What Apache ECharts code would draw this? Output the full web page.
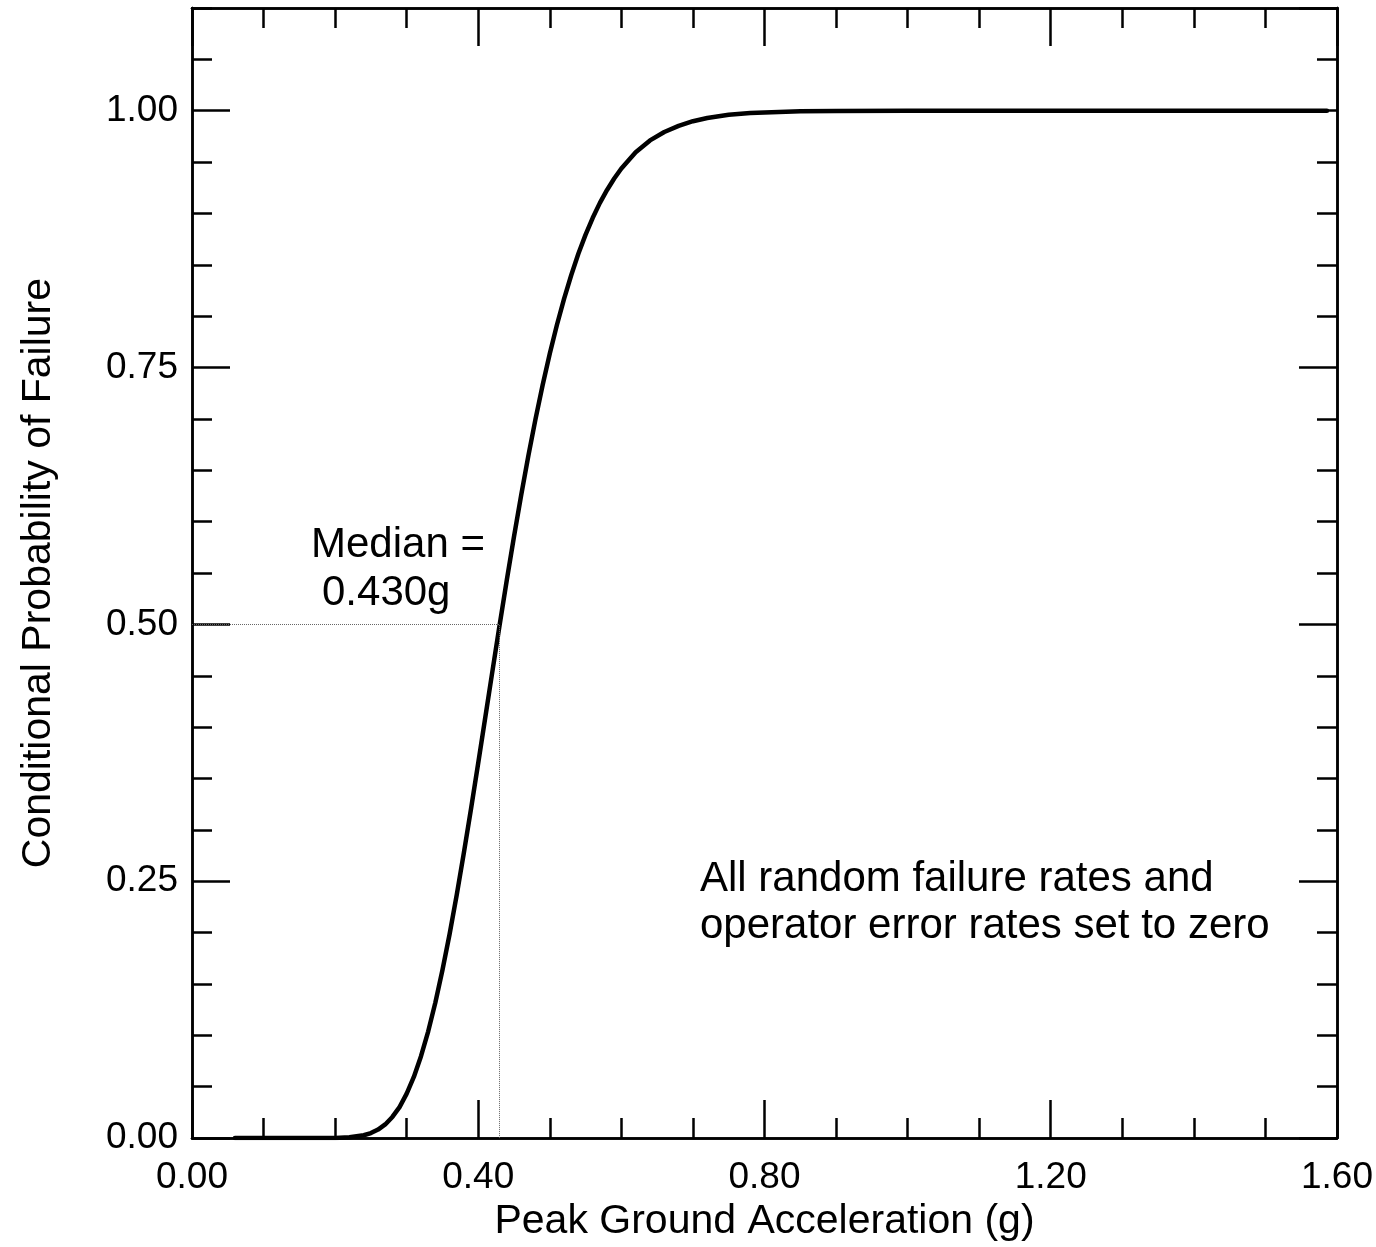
<!DOCTYPE html>
<html>
<head>
<meta charset="utf-8">
<script src="https://cdn.jsdelivr.net/npm/echarts@6/dist/echarts.min.js"></script>
<style>html,body{margin:0;padding:0;background:#fff;}#c{width:1376px;height:1247px;}</style>
</head>
<body>
<div id="c"></div>
<script>
// Data
var pga = [0.06, 0.10, 0.15, 0.20, 0.22, 0.24, 0.25, 0.26, 0.27, 0.28, 0.29, 0.30, 0.31, 0.32, 0.33, 0.34, 0.35, 0.36, 0.37, 0.38, 0.39, 0.40, 0.41, 0.42, 0.43, 0.44, 0.45, 0.46, 0.47, 0.48, 0.49, 0.50, 0.51, 0.52, 0.53, 0.54, 0.55, 0.56, 0.57, 0.58, 0.59, 0.60, 0.62, 0.64, 0.66, 0.68, 0.70, 0.72, 0.75, 0.78, 0.80, 0.85, 0.90, 1.00, 1.20, 1.40, 1.586];
var probability = [0.0, 0.0, 0.0, 0.0002, 0.0008, 0.0028, 0.0049, 0.0083, 0.0133, 0.0206, 0.0302, 0.0433, 0.0595, 0.0797, 0.1037, 0.1317, 0.1637, 0.1987, 0.2370, 0.2781, 0.3210, 0.3653, 0.4103, 0.4554, 0.5, 0.5436, 0.5857, 0.6259, 0.6640, 0.6998, 0.7330, 0.7637, 0.7917, 0.8172, 0.8401, 0.8610, 0.8794, 0.8958, 0.9103, 0.9229, 0.9340, 0.9438, 0.9596, 0.9711, 0.9793, 0.9853, 0.9898, 0.9929, 0.9960, 0.9977, 0.9984, 0.9994, 0.9998, 1.0, 1.0, 1.0, 1.0];
var medianPGA = 0.430;
var medianProb = 0.5;
var xTitle = 'Peak Ground Acceleration (g)';
var yTitle = 'Conditional Probability of Failure';
var medianText = ['Median =', '0.430g'];
var noteText = ['All random failure rates and', 'operator error rates set to zero'];

var FONT = '"Liberation Sans", Arial, sans-serif';
var curve = pga.map(function (x, i) { return [x, probability[i]]; });

function xAx(pos, interval, len, labels, extra) {
  var a = {
    type: 'value', position: pos, min: 0, max: 1.6, interval: interval,
    axisLine: { show: true, onZero: false, lineStyle: { color: '#000', width: 2.5 } },
    axisTick: { show: true, inside: true, length: len, lineStyle: { color: '#000', width: 2.5 } },
    axisLabel: { show: labels, fontFamily: FONT, fontSize: 37, color: '#000', margin: 21,
      formatter: function (v) { return v.toFixed(2); } },
    splitLine: { show: false }
  };
  return Object.assign(a, extra || {});
}
function yAx(pos, interval, len, labels, extra) {
  var a = {
    type: 'value', position: pos, min: 0, max: 1.1, interval: interval,
    axisLine: { show: true, onZero: false, lineStyle: { color: '#000', width: 2.5 } },
    axisTick: { show: true, inside: true, length: len, lineStyle: { color: '#000', width: 2.5 } },
    axisLabel: { show: labels, fontFamily: FONT, fontSize: 37, color: '#000', margin: 14, showMaxLabel: false,
      formatter: function (v) { return v.toFixed(2); } },
    splitLine: { show: false }
  };
  return Object.assign(a, extra || {});
}

var chart = echarts.init(document.getElementById('c'), null, { renderer: 'canvas' });
chart.setOption({
  backgroundColor: '#fff',
  animation: false,
  grid: { left: 192, right: 38, top: 8, bottom: 107 },
  xAxis: [
    xAx('bottom', 0.4, 38, true, { name: xTitle, nameLocation: 'middle', nameGap: 62,
      nameTextStyle: { fontFamily: FONT, fontSize: 41, color: '#000' } }),
    xAx('bottom', 0.1, 20, false),
    xAx('top', 0.4, 38, false),
    xAx('top', 0.1, 20, false)
  ],
  yAxis: [
    yAx('left', 0.25, 38, true, { name: yTitle, nameLocation: 'middle', nameGap: 133,
      nameTextStyle: { fontFamily: FONT, fontSize: 41, color: '#000' } }),
    yAx('left', 0.05, 20, false),
    yAx('right', 0.25, 38, false),
    yAx('right', 0.05, 20, false)
  ],
  series: [{
    type: 'line', xAxisIndex: 0, yAxisIndex: 0, data: curve,
    showSymbol: false, smooth: false,
    lineStyle: { color: '#000', width: 4.5, join: 'round', cap: 'round' },
    markLine: {
      silent: true, symbol: 'none', label: { show: false },
      lineStyle: { color: '#666', width: 1, type: 'dotted' },
      data: [
        [{ coord: [0, medianProb] }, { coord: [medianPGA, medianProb] }],
        [{ coord: [medianPGA, 0] }, { coord: [medianPGA, medianProb] }]
      ]
    }
  }],
  graphic: [
    { type: 'text', left: 311, top: 524, style: { text: medianText[0], font: '42px ' + FONT, fill: '#000' } },
    { type: 'text', left: 322, top: 572, style: { text: medianText[1], font: '42px ' + FONT, fill: '#000' } },
    { type: 'text', left: 700, top: 858, style: { text: noteText[0], font: '42px ' + FONT, fill: '#000' } },
    { type: 'text', left: 700, top: 905, style: { text: noteText[1], font: '42px ' + FONT, fill: '#000' } }
  ]
});
</script>
</body>
</html>
